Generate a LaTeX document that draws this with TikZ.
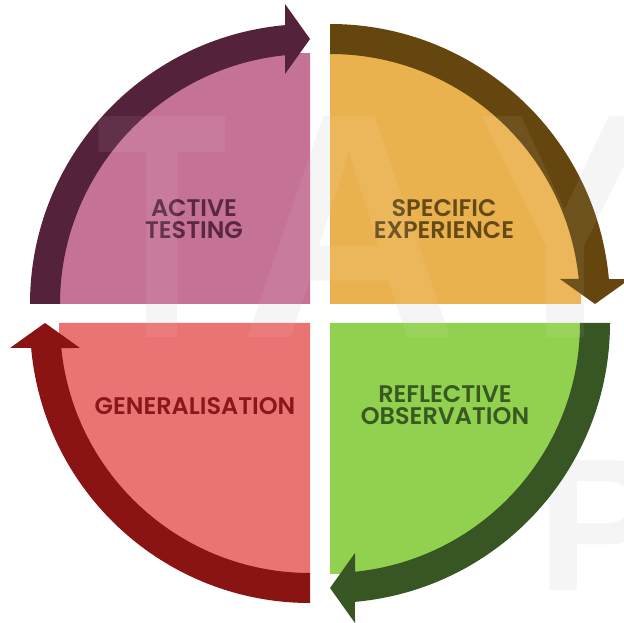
\documentclass[tikz,border=0pt]{standalone}
\usepackage{fontspec}
\newfontfamily\lblfont{Poppins SemiBold}
\newfontfamily\wmfont{Liberation Sans Bold}
\definecolor{pinkQ}{HTML}{C57297}
\definecolor{purpA}{HTML}{55223C}
\definecolor{orangeQ}{HTML}{EAB24E}
\definecolor{brownA}{HTML}{65460E}
\definecolor{greenQ}{HTML}{92D050}
\definecolor{greenA}{HTML}{375623}
\definecolor{redQ}{HTML}{EA7373}
\definecolor{redA}{HTML}{8A1313}
\definecolor{purpT}{HTML}{5A2642}
\definecolor{brownT}{HTML}{664A16}
\definecolor{greenT}{HTML}{385A22}
\definecolor{redT}{HTML}{8A1818}
\tikzset{
  lbl/.style={font=\lblfont\fontsize{24}{22.5}\selectfont, align=center, inner sep=0pt, anchor=center},
  wm/.style={font=\wmfont\fontsize{321}{321}\selectfont, inner sep=0pt, anchor=base},
  wmbg/.style={wm, text=black!4},
  wmfg/.style={wm, text=white, text opacity=0.07},
}
\begin{document}
\begin{tikzpicture}[x=1pt,y=1pt]
\useasboundingbox (0,0) rectangle (624,622);
\fill[white] (0,0) rectangle (624,622);
% faint watermark on the background
\node[wmbg] (wmT) at (162,284) {\scalebox{0.67}[1]{T}};
\node[wmbg] (wmA) at (349,284) {\scalebox{0.94}[1]{A}};
\node[wmbg] (wmY) at (565,284) {\scalebox{0.82}[1]{Y}};
\node[wmbg, font=\wmfont\fontsize{189}{189}\selectfont, anchor=base west] (wmP) at (537,32) {P};
% quadrants
\fill[pinkQ]   (310,318) coordinate (tl) -- ++(180:251) arc[start angle=180,end angle=90,radius=251] -- cycle;
\fill[orangeQ] (330,318) coordinate (tr) -- ++(90:251) arc[start angle=90,end angle=0,radius=251] -- cycle;
\fill[greenQ]  (330,299) coordinate (br) -- ++(0:251) arc[start angle=0,end angle=-90,radius=251] -- cycle;
\fill[redQ]    (310,299) coordinate (bl) -- ++(-90:251) arc[start angle=-90,end angle=-180,radius=251] -- cycle;
% ring arrows
\fill[purpA, shift={(tl)}] (180:280) arc[start angle=180,end angle=95.12,radius=280] -- (-25,300) -- (0,265) -- (-25,230) -- (95.74:250) arc[start angle=95.74,end angle=180,radius=250] -- cycle;
\fill[brownA, shift={(tr)}] (90:280) arc[start angle=90,end angle=5.12,radius=280] -- (300,25) -- (265,0) -- (230,25) -- (5.74:250) arc[start angle=5.74,end angle=90,radius=250] -- cycle;
\fill[greenA, shift={(br)}] (0:280) arc[start angle=0,end angle=-84.88,radius=280] -- (25,-300) -- (0,-265) -- (25,-230) -- (-84.26:250) arc[start angle=-84.26,end angle=0,radius=250] -- cycle;
\fill[redA, shift={(bl)}] (-90:280) arc[start angle=-90,end angle=-174.88,radius=280] -- (-300,-25) -- (-265,0) -- (-230,-25) -- (-174.26:250) arc[start angle=-174.26,end angle=-90,radius=250] -- cycle;
% labels
\node[lbl, text=purpT]  (act) at (194,403) {ACTIVE\\TESTING};
\node[lbl, text=brownT] (spe) at (444,403) {SPECIFIC\\EXPERIENCE};
\node[lbl, text=greenT] (ref) at (445,217) {REFLECTIVE\\OBSERVATION};
\node[lbl, text=redT]   (gen) at (195,215.5) {GENERALISATION};
% faint watermark over the shapes
\node[wmfg] (wmT2) at (162,284) {\scalebox{0.67}[1]{T}};
\node[wmfg] (wmA2) at (349,284) {\scalebox{0.94}[1]{A}};
\node[wmfg] (wmY2) at (565,284) {\scalebox{0.82}[1]{Y}};
\end{tikzpicture}
\end{document}
